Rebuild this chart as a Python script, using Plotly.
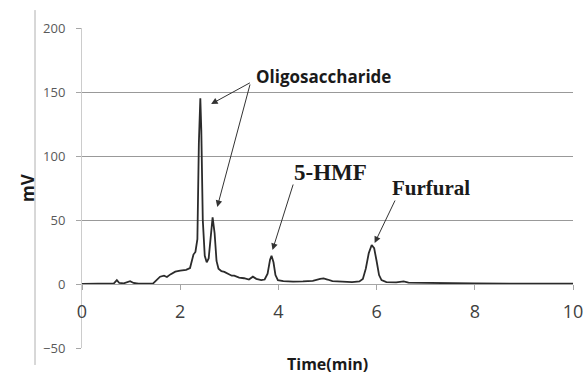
import plotly.graph_objects as go

# Chromatogram trace
time_min = [0.0, 0.6, 0.65, 0.71, 0.76, 0.85, 0.92, 0.98, 1.05, 1.15, 1.45, 1.52, 1.59, 1.67, 1.73, 1.8,
            1.9, 2.0, 2.12, 2.2, 2.24, 2.27, 2.31, 2.35, 2.38, 2.41, 2.43, 2.46, 2.5, 2.54, 2.58,
            2.62, 2.66, 2.7, 2.74, 2.78, 2.84, 2.9, 2.95, 3.0, 3.05, 3.1, 3.2, 3.3, 3.4, 3.48, 3.55,
            3.65, 3.72, 3.78, 3.83, 3.86, 3.9, 3.94, 3.99, 4.1, 4.3, 4.5, 4.7, 4.85, 4.92, 5.0, 5.1,
            5.3, 5.5, 5.65, 5.72, 5.78, 5.84, 5.9, 5.95, 6.0, 6.05, 6.1, 6.2, 6.4, 6.55, 6.65, 7.0,
            8.0, 9.0, 10.0]
signal_mv = [0, 0, 0.5, 3, 0.8, 0.5, 1.5, 2.2, 0.8, 0.2, 0.5, 3.5, 5.7, 6.5, 5.5, 7.5,
             9.6, 10.4, 11, 12.5, 18, 23, 25, 35, 110, 145, 120, 50, 22, 17, 20,
             38, 52, 40, 18, 12, 10, 9.5, 8.5, 8, 6.5, 6.5, 5, 4.5, 3.5, 5.7, 4,
             3, 3.5, 8, 19, 22, 17, 7, 3, 2.2, 1.8, 2, 2.5, 4, 4.4, 3.5, 2.2,
             1.8, 1.5, 2, 4, 12, 24, 30.5, 28, 18, 7, 3, 1.5, 1.2, 2, 1, 0.7,
             0.4, 0.3, 0.2]

x_ticks = [0, 2, 4, 6, 8, 10]
y_ticks = [-50, 0, 50, 100, 150, 200]

# labels: (text, x, y, size, family)
labels = [
    ("Oligosaccharide", 4.92, 162.5, 17, "Open Sans"),
    ("5-HMF", 5.06, 87.5, 23, "Liberation Serif"),
    ("Furfural", 7.1, 75, 21, "Liberation Serif"),
]
# arrows: (tail_x, tail_y, tip_x, tip_y)
arrows = [
    (3.45, 157.8, 2.63, 140.6),
    (3.43, 157.0, 2.755, 60.2),
    (4.31, 78.9, 3.88, 26.6),
    (6.39, 66.4, 5.96, 32.0),
]

fig = go.Figure()
fig.add_trace(go.Scatter(x=time_min, y=signal_mv, mode="lines",
                         line=dict(color="#2b2b2b", width=1.8), showlegend=False))

for text, x, y, size, fam in labels:
    fig.add_annotation(x=x, y=y, text="<b>%s</b>" % text, showarrow=False,
                       font=dict(size=size, family=fam, color="#1a1a1a"))
for tx, ty, hx, hy in arrows:
    fig.add_annotation(x=hx, y=hy, ax=tx, ay=ty, axref="x", ayref="y", text="",
                       showarrow=True, arrowhead=2, arrowsize=1.3, arrowwidth=1,
                       arrowcolor="#333333")

fig.add_annotation(x=0.5, y=-0.05, xref="paper", yref="paper", text="<b>Time(min)</b>",
                   showarrow=False, font=dict(size=16, family="Open Sans", color="#1a1a1a"),
                   xanchor="center", yanchor="middle")
fig.add_annotation(x=-0.112, y=0.5, xref="paper", yref="paper", text="<b>mV</b>",
                   textangle=-90, showarrow=False, xanchor="center", yanchor="middle",
                   font=dict(size=17, family="Open Sans", color="#1a1a1a"))

fig.add_shape(type="line", xref="paper", yref="paper", x0=-0.0957, x1=-0.0957,
              y0=-0.053, y1=1.056, line=dict(color="#b0b0b0", width=1))

fig.update_layout(
    width=585, height=374,
    margin=dict(l=82, r=12, t=28, b=26),
    paper_bgcolor="white", plot_bgcolor="white",
    xaxis=dict(range=[0, 10], tickvals=x_ticks, ticktext=[str(v) for v in x_ticks],
               showgrid=False, zeroline=False, showline=True, linecolor="#a6a6a6",
               linewidth=1, anchor="free", position=0.2, ticks="outside", ticklen=5,
               tickcolor="#a6a6a6", ticklabelstandoff=6, automargin=False,
               tickfont=dict(size=18, family="Open Sans", color="#404040")),
    yaxis=dict(range=[-50, 200], tickvals=y_ticks, showgrid=True, gridcolor="#999999",
               gridwidth=1.2, zeroline=False, showline=True, linecolor="#cccccc", linewidth=1,
               ticks="outside", ticklen=5, tickcolor="#a6a6a6", ticklabelstandoff=8,
               automargin=False,
               tickfont=dict(size=13, family="Open Sans", color="#595959")),
)

fig.write_html("out.html", config={"displayModeBar": False},
               post_script="document.body.style.margin='0';"
                           "document.documentElement.style.overflow='hidden';"
                           "document.body.style.overflow='hidden';")
